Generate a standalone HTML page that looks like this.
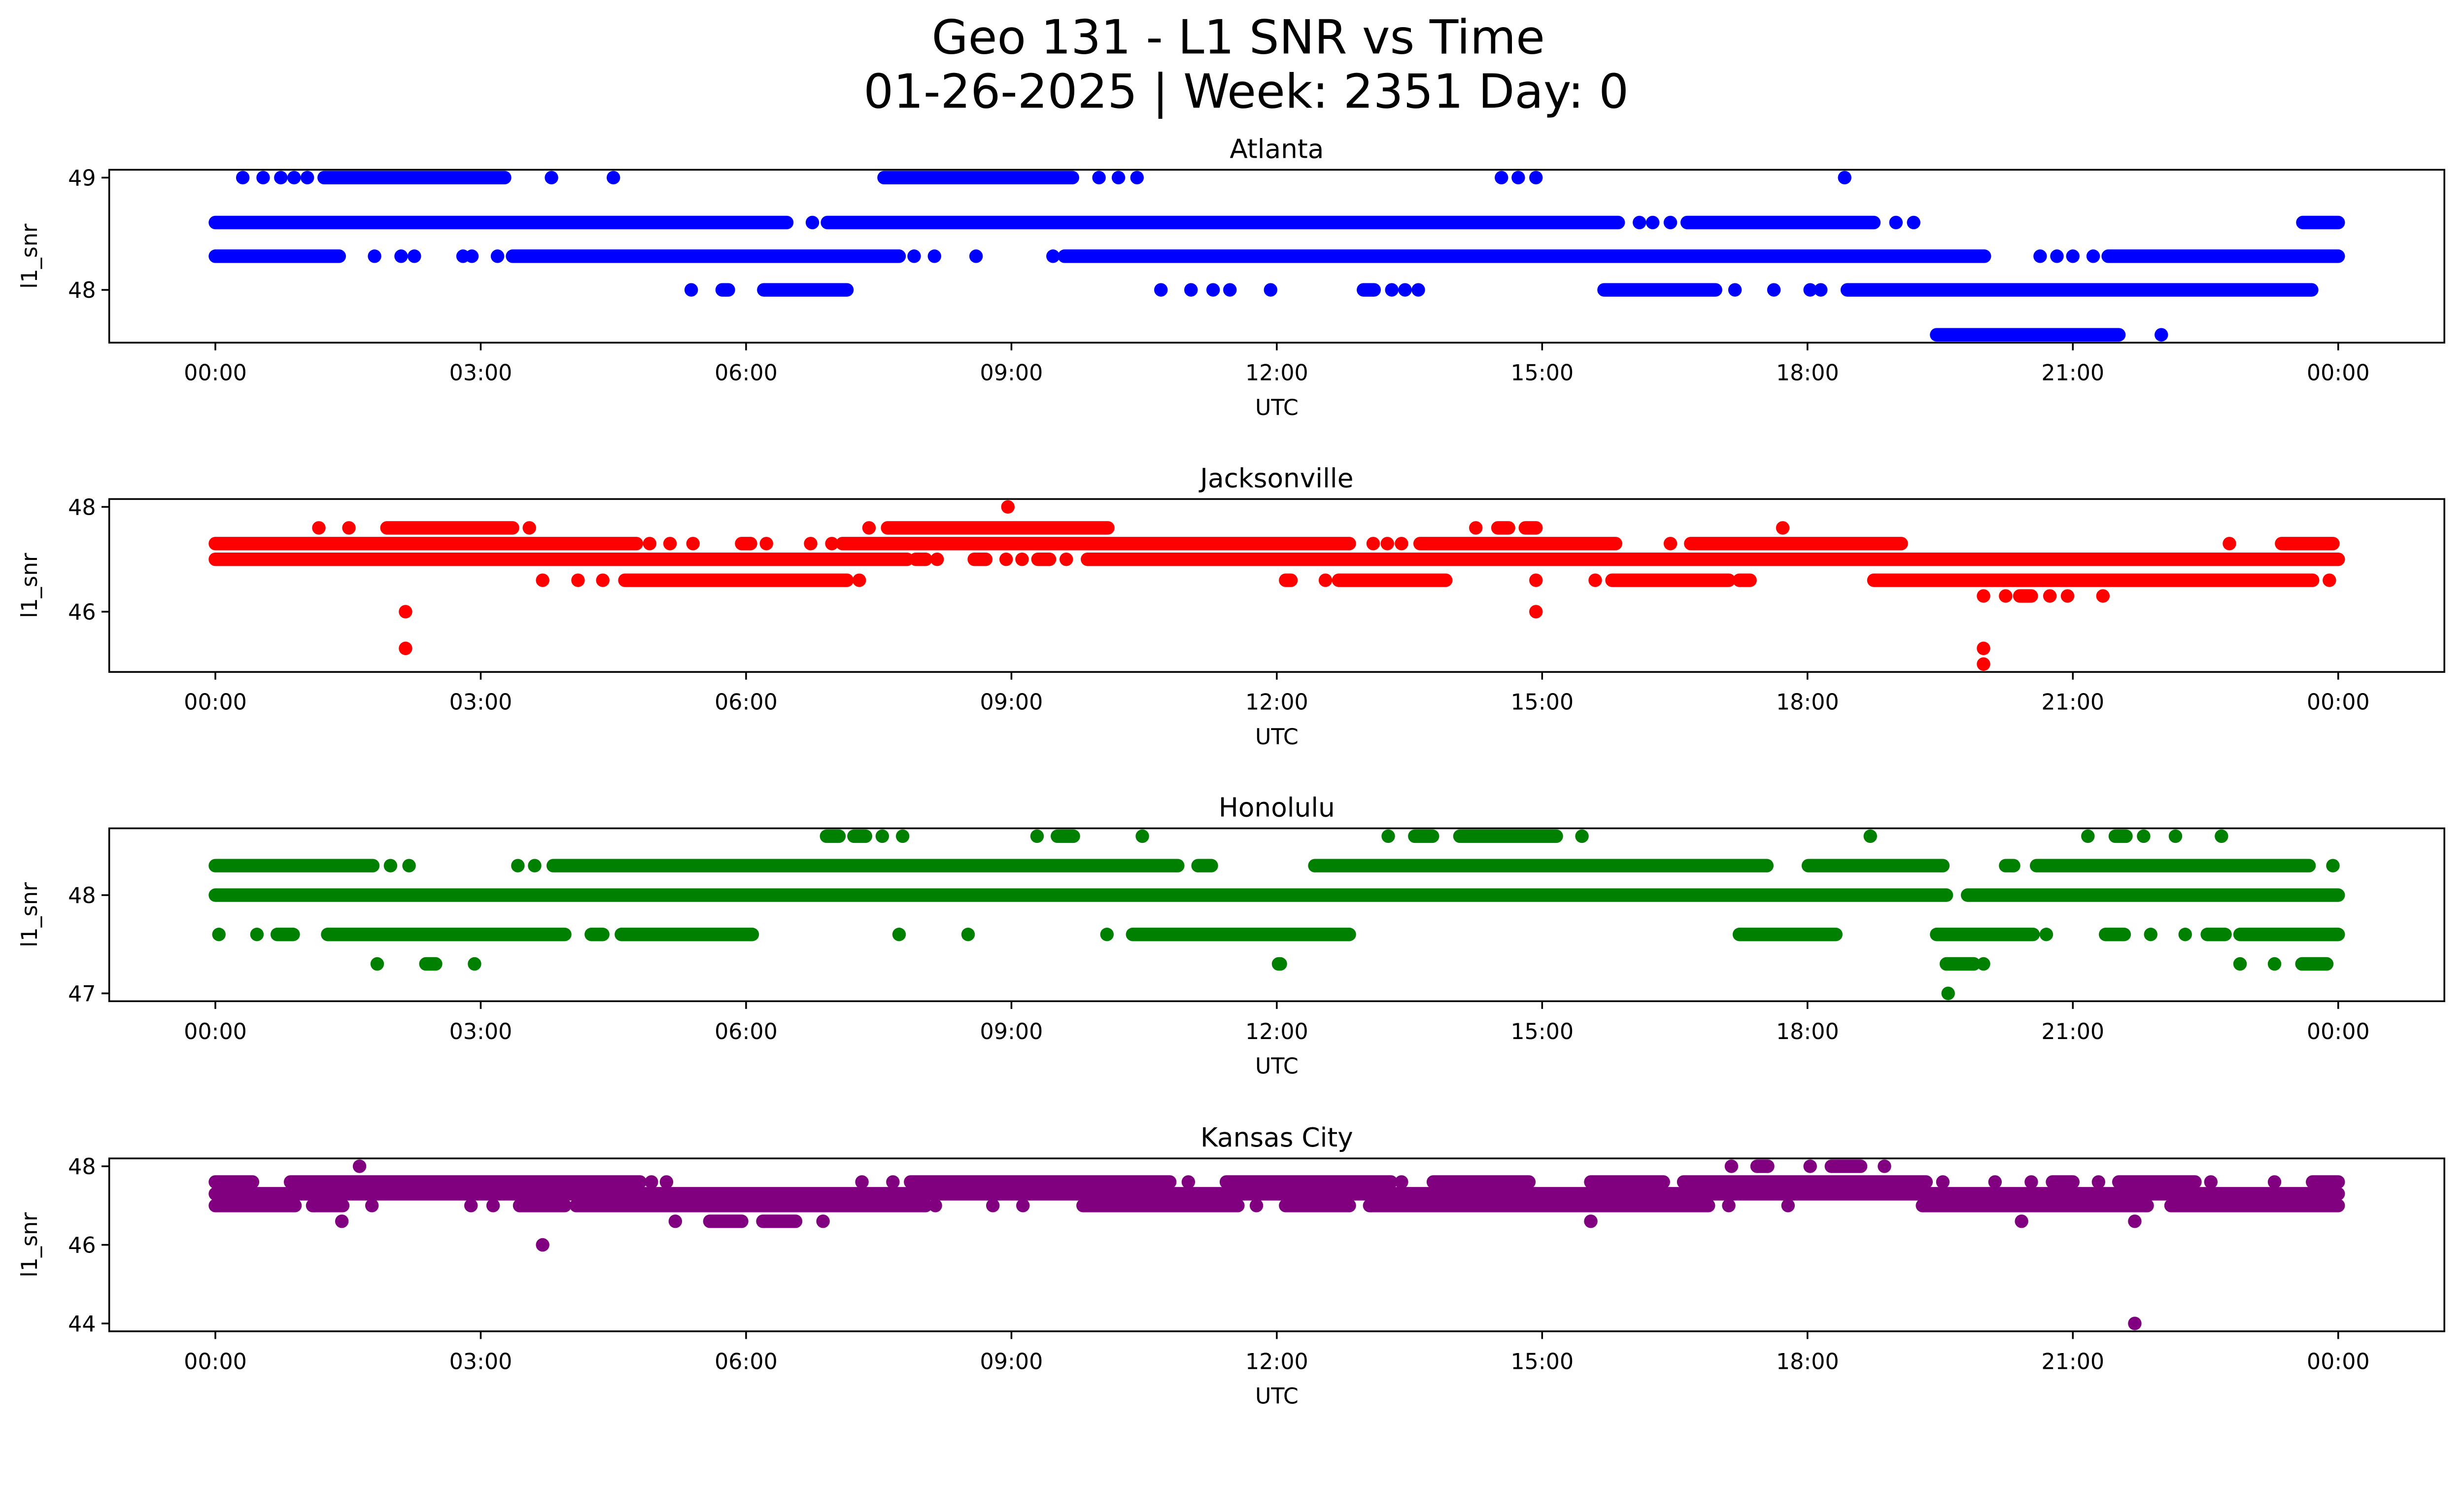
<!DOCTYPE html>
<html><head><meta charset="utf-8">
<style>
html,body{margin:0;padding:0;background:#fff;overflow:hidden;}
svg{display:block;position:absolute;left:0;top:0;width:100vw;height:58.036vw;}
text{font-family:"DejaVu Sans","Liberation Sans",sans-serif;fill:#000;}
</style></head>
<body>
<svg id="chart" xmlns="http://www.w3.org/2000/svg" viewBox="0 0 1568 910" preserveAspectRatio="none">
<rect x="0" y="0" width="1568" height="910" fill="#fff"/>
<text x="788" y="34" font-size="30" text-anchor="middle">Geo 131 - L1 SNR vs Time</text>
<text x="793" y="68.5" font-size="30" text-anchor="middle">01-26-2025 | Week: 2351 Day: 0</text>
<g id="panels"></g>
</svg>
<script>
// x-axis tick labels (hours)
const xTickHours = [0, 3, 6, 9, 12, 15, 18, 21, 24];
const xTickLabels = ["00:00","03:00","06:00","09:00","12:00","15:00","18:00","21:00","00:00"];
const panelTitles = ["Atlanta","Jacksonville","Honolulu","Kansas City"];
const panelColors = ["#0000ff","#ff0000","#008000","#800080"];
const yTicksAtlanta = [48, 49];
const yTicksJacksonville = [46, 48];
const yTicksHonolulu = [47, 48];
const yTicksKansas = [44, 46, 48];
// runs: [snr, startHour, endHour]
const atlantaRuns = [
[49,0.31,0.31],[49,0.54,0.54],[49,0.74,0.74],[49,0.89,0.89],[49,1.04,1.04],[49,1.23,3.27],[49,3.80,3.80],[49,4.50,4.50],[49,7.56,9.69],[49,9.99,9.99],[49,10.21,10.21],[49,10.42,10.42],[49,14.54,14.54],[49,14.73,14.73],[49,14.93,14.93],[49,18.42,18.42],
[48.6,0,6.46],[48.6,6.75,6.75],[48.6,6.92,15.86],[48.6,16.1,16.1],[48.6,16.25,16.25],[48.6,16.45,16.45],[48.6,16.64,18.75],[48.6,19.0,19.0],[48.6,19.2,19.2],[48.6,23.6,24],
[48.3,0,1.40],[48.3,1.80,1.80],[48.3,2.1,2.1],[48.3,2.25,2.25],[48.3,2.8,2.8],[48.3,2.9,2.9],[48.3,3.19,3.19],[48.3,3.36,7.73],[48.3,7.9,7.9],[48.3,8.13,8.13],[48.3,8.6,8.6],[48.3,9.47,9.47],[48.3,9.6,20.0],[48.3,20.63,20.63],[48.3,20.82,20.82],[48.3,21.0,21.0],[48.3,21.23,21.23],[48.3,21.4,24],
[48,5.38,5.38],[48,5.73,5.8],[48,6.2,7.14],[48,10.69,10.69],[48,11.03,11.03],[48,11.28,11.28],[48,11.47,11.47],[48,11.93,11.93],[48,12.98,13.1],[48,13.3,13.3],[48,13.45,13.45],[48,13.6,13.6],[48,15.7,16.96],[48,17.18,17.18],[48,17.62,17.62],[48,18.03,18.03],[48,18.15,18.15],[48,18.45,23.7],
[47.6,19.46,21.52],[47.6,22.0,22.0]
];
const jacksonvilleRuns = [
[48,8.96,8.96],
[47.6,1.17,1.17],[47.6,1.51,1.51],[47.6,1.94,3.36],[47.6,3.55,3.55],[47.6,7.39,7.39],[47.6,7.6,10.09],[47.6,14.25,14.25],[47.6,14.5,14.62],[47.6,14.81,14.93],[47.6,17.72,17.72],
[47.3,0,4.76],[47.3,4.91,4.91],[47.3,5.14,5.14],[47.3,5.4,5.4],[47.3,5.95,6.05],[47.3,6.23,6.23],[47.3,6.73,6.73],[47.3,6.97,6.97],[47.3,7.09,12.82],[47.3,13.09,13.09],[47.3,13.25,13.25],[47.3,13.41,13.41],[47.3,13.62,15.83],[47.3,16.45,16.45],[47.3,16.68,19.06],[47.3,22.77,22.77],[47.3,23.36,23.94],
[47,0,7.82],[47,7.92,8.03],[47,8.16,8.16],[47,8.58,8.71],[47,8.94,8.94],[47,9.12,9.12],[47,9.3,9.43],[47,9.62,9.62],[47,9.86,24],
[46.6,3.70,3.70],[46.6,4.1,4.1],[46.6,4.38,4.38],[46.6,4.63,7.14],[46.6,7.28,7.28],[46.6,12.1,12.16],[46.6,12.55,12.55],[46.6,12.7,13.91],[46.6,14.93,14.93],[46.6,15.6,15.6],[46.6,15.79,17.11],[46.6,17.23,17.35],[46.6,18.75,23.71],[46.6,23.9,23.9],
[46.3,19.99,19.99],[46.3,20.24,20.24],[46.3,20.4,20.53],[46.3,20.74,20.74],[46.3,20.94,20.94],[46.3,21.34,21.34],
[46,2.15,2.15],[46,14.93,14.93],
[45.3,2.15,2.15],[45.3,19.99,19.99],
[45,19.99,19.99]
];
const honoluluRuns = [
[48.6,6.91,7.05],[48.6,7.22,7.35],[48.6,7.54,7.54],[48.6,7.77,7.77],[48.6,9.29,9.29],[48.6,9.52,9.7],[48.6,10.48,10.48],[48.6,13.26,13.26],[48.6,13.56,13.76],[48.6,14.07,15.16],[48.6,15.45,15.45],[48.6,18.71,18.71],[48.6,21.17,21.17],[48.6,21.48,21.6],[48.6,21.8,21.8],[48.6,22.16,22.16],[48.6,22.68,22.68],
[48.3,0,1.78],[48.3,1.98,1.98],[48.3,2.19,2.19],[48.3,3.42,3.42],[48.3,3.61,3.61],[48.3,3.82,10.88],[48.3,11.11,11.26],[48.3,12.43,17.54],[48.3,18.01,19.53],[48.3,20.24,20.33],[48.3,20.59,23.67],[48.3,23.94,23.94],
[48,0,19.57],[48,19.81,24],
[47.6,0.04,0.04],[47.6,0.47,0.47],[47.6,0.7,0.88],[47.6,1.27,3.95],[47.6,4.25,4.38],[47.6,4.59,6.07],[47.6,7.73,7.73],[47.6,8.51,8.51],[47.6,10.08,10.08],[47.6,10.37,12.82],[47.6,17.23,18.32],[47.6,19.46,20.55],[47.6,20.7,20.7],[47.6,21.37,21.58],[47.6,21.88,21.88],[47.6,22.27,22.27],[47.6,22.52,22.72],[47.6,22.89,24],
[47.3,1.83,1.83],[47.3,2.38,2.49],[47.3,2.93,2.93],[47.3,12.02,12.04],[47.3,19.57,19.88],[47.3,19.99,19.99],[47.3,22.89,22.89],[47.3,23.28,23.28],[47.3,23.59,23.87],
[47,19.59,19.59]
];
const kansasRuns = [
[48,1.63,1.63],[48,17.14,17.14],[48,17.43,17.55],[48,18.03,18.03],[48,18.27,18.6],[48,18.87,18.87],
[47.6,0,0.42],[47.6,0.85,4.8],[47.6,4.93,4.93],[47.6,5.1,5.1],[47.6,7.31,7.31],[47.6,7.66,7.66],[47.6,7.86,10.79],[47.6,11.0,11.0],[47.6,11.43,13.29],[47.6,13.41,13.41],[47.6,13.77,14.85],[47.6,15.55,16.37],[47.6,16.6,19.34],[47.6,19.53,19.53],[47.6,20.12,20.12],[47.6,20.53,20.53],[47.6,20.77,21.0],[47.6,21.29,21.29],[47.6,21.52,22.38],[47.6,22.56,22.56],[47.6,23.28,23.28],[47.6,23.71,24],
[47.3,0,24],
[47,0,0.9],[47,1.1,1.44],[47,1.77,1.77],[47,2.89,2.89],[47,3.14,3.14],[47,3.44,3.95],[47,4.08,8.03],[47,8.14,8.14],[47,8.79,8.79],[47,9.13,9.13],[47,9.81,11.56],[47,11.77,11.77],[47,12.1,12.82],[47,13.05,16.88],[47,17.11,17.11],[47,17.78,17.78],[47,19.3,21.84],[47,22.11,24],
[46.6,1.43,1.43],[46.6,5.2,5.2],[46.6,5.59,5.95],[46.6,6.19,6.56],[46.6,6.87,6.87],[46.6,15.55,15.55],[46.6,20.42,20.42],[46.6,21.7,21.7],
[46,3.7,3.7],
[44,21.7,21.7]
];
const panelRuns = [atlantaRuns, jacksonvilleRuns, honoluluRuns, kansasRuns];
const panelYTicks = [yTicksAtlanta, yTicksJacksonville, yTicksHonolulu, yTicksKansas];

const NS = "http://www.w3.org/2000/svg";
const panelTops = [108, 317.5, 527, 737];
const PH = 110, AX_L = 69.5, AX_R = 1555.5, R = 4.3;
function mk(tag, attrs, parent){const e=document.createElementNS(NS,tag);for(const k in attrs)e.setAttribute(k,attrs[k]);parent.appendChild(e);return e;}
const xScale = h => AX_L + (h - (-1.2)) / 26.4 * (AX_R - AX_L);
const root = document.getElementById('panels');

panelRuns.forEach((runs, p) => {
  const top = panelTops[p], bot = top + PH;
  let mn = Infinity, mx = -Infinity;
  runs.forEach(r => { mn = Math.min(mn, r[0]); mx = Math.max(mx, r[0]); });
  const pad = (mx - mn) * 0.05, lo = mn - pad, hi = mx + pad;
  const yScale = v => bot - (v - lo) / (hi - lo) * PH;
  const g = mk('g', {}, root);
  
  
  const t = mk('text', {x:(AX_L+AX_R)/2, y: top-7.5, 'font-size':16.7, 'text-anchor':'middle'}, g);
  t.textContent = panelTitles[p];
  
  
  const marks = mk('g', {fill: panelColors[p], stroke: panelColors[p]}, g);
  
  
  runs.forEach(r => {
    const y = yScale(r[0]), x1 = xScale(r[1]), x2 = xScale(r[2]);
    if (x2 - x1 > 0.01) {
      const l = mk('line', {x1:x1, y1:y, x2:x2, y2:y, 'stroke-width':2*R, 'stroke-linecap':'round'}, marks);
      
      
    } else {
      const c = mk('circle', {cx:x1, cy:y, r:R, stroke:'none'}, marks);
      
      
    }
  });
  const fr = mk('rect', {x:AX_L, y:top, width:AX_R-AX_L, height:PH, fill:'none', stroke:'#000', 'stroke-width':1.1}, g);
  
  
  xTickHours.forEach((h, i) => {
    const x = xScale(h);
    mk('line', {x1:x, y1:bot, x2:x, y2:bot+4.9, stroke:'#000', 'stroke-width':1.1}, g);
    const tl = mk('text', {x:x, y:bot+24, 'font-size':13.9, 'text-anchor':'middle'}, g);
    tl.textContent = xTickLabels[i];
    
    
  });
  panelYTicks[p].forEach(v => {
    const y = yScale(v);
    mk('line', {x1:AX_L-4.9, y1:y, x2:AX_L, y2:y, stroke:'#000', 'stroke-width':1.1}, g);
    const tl = mk('text', {x:AX_L-8.5, y:y+5, 'font-size':13.9, 'text-anchor':'end'}, g);
    tl.textContent = String(v);
    
    
  });
  const xl = mk('text', {x:(AX_L+AX_R)/2, y:bot+46, 'font-size':13.9, 'text-anchor':'middle'}, g);
  xl.textContent = 'UTC';
  
  
  const ym = top + PH/2;
  const yl = mk('text', {x:0, y:0, 'font-size':13.9, 'text-anchor':'middle', transform:'translate(23.5,'+ym+') rotate(-90)'}, g);
  yl.textContent = 'l1_snr';
  
  
});
</script>
</body></html>
